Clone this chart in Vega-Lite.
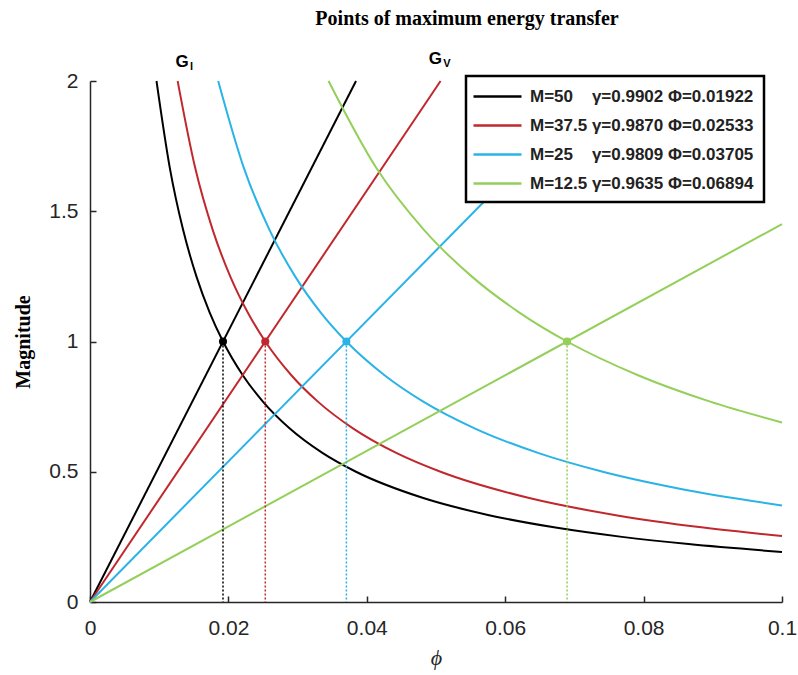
{
  "$schema": "https://vega.github.io/schema/vega-lite/v6.json",
  "width": 692,
  "height": 521,
  "autosize": {"type": "none"},
  "padding": {"left": 90, "top": 81, "right": 16, "bottom": 73},
  "background": "white",
  "title": {"text": "Points of maximum energy transfer", "font": "Liberation Serif", "fontSize": 20, "fontWeight": "bold", "offset": 21, "dx": 31, "color": "black", "anchor": "middle"},
  "datasets": {
    "curves": [
      {"s": "M=50", "k": "h", "x": 0.00961, "y": 2},
      {"s": "M=50", "k": "h", "x": 0.011532, "y": 1.6667},
      {"s": "M=50", "k": "h", "x": 0.013454, "y": 1.4286},
      {"s": "M=50", "k": "h", "x": 0.015376, "y": 1.25},
      {"s": "M=50", "k": "h", "x": 0.017298, "y": 1.1111},
      {"s": "M=50", "k": "h", "x": 0.01922, "y": 1},
      {"s": "M=50", "k": "h", "x": 0.022103, "y": 0.8696},
      {"s": "M=50", "k": "h", "x": 0.024986, "y": 0.7692},
      {"s": "M=50", "k": "h", "x": 0.02883, "y": 0.6667},
      {"s": "M=50", "k": "h", "x": 0.033635, "y": 0.5714},
      {"s": "M=50", "k": "h", "x": 0.03844, "y": 0.5},
      {"s": "M=50", "k": "h", "x": 0.04805, "y": 0.4},
      {"s": "M=50", "k": "h", "x": 0.05766, "y": 0.3333},
      {"s": "M=50", "k": "h", "x": 0.06727, "y": 0.2857},
      {"s": "M=50", "k": "h", "x": 0.07688, "y": 0.25},
      {"s": "M=50", "k": "h", "x": 0.08649, "y": 0.2222},
      {"s": "M=50", "k": "h", "x": 0.1, "y": 0.1922},
      {"s": "M=50", "k": "l", "x": 0, "y": 0},
      {"s": "M=50", "k": "l", "x": 0.03844, "y": 2},
      {"s": "M=37.5", "k": "h", "x": 0.012665, "y": 2},
      {"s": "M=37.5", "k": "h", "x": 0.015198, "y": 1.6667},
      {"s": "M=37.5", "k": "h", "x": 0.017731, "y": 1.4286},
      {"s": "M=37.5", "k": "h", "x": 0.020264, "y": 1.25},
      {"s": "M=37.5", "k": "h", "x": 0.022797, "y": 1.1111},
      {"s": "M=37.5", "k": "h", "x": 0.02533, "y": 1},
      {"s": "M=37.5", "k": "h", "x": 0.02913, "y": 0.8696},
      {"s": "M=37.5", "k": "h", "x": 0.032929, "y": 0.7692},
      {"s": "M=37.5", "k": "h", "x": 0.037995, "y": 0.6667},
      {"s": "M=37.5", "k": "h", "x": 0.044328, "y": 0.5714},
      {"s": "M=37.5", "k": "h", "x": 0.05066, "y": 0.5},
      {"s": "M=37.5", "k": "h", "x": 0.063325, "y": 0.4},
      {"s": "M=37.5", "k": "h", "x": 0.07599, "y": 0.3333},
      {"s": "M=37.5", "k": "h", "x": 0.088655, "y": 0.2857},
      {"s": "M=37.5", "k": "h", "x": 0.1, "y": 0.2533},
      {"s": "M=37.5", "k": "l", "x": 0, "y": 0},
      {"s": "M=37.5", "k": "l", "x": 0.05066, "y": 2},
      {"s": "M=25", "k": "h", "x": 0.018525, "y": 2},
      {"s": "M=25", "k": "h", "x": 0.02223, "y": 1.6667},
      {"s": "M=25", "k": "h", "x": 0.025935, "y": 1.4286},
      {"s": "M=25", "k": "h", "x": 0.02964, "y": 1.25},
      {"s": "M=25", "k": "h", "x": 0.033345, "y": 1.1111},
      {"s": "M=25", "k": "h", "x": 0.03705, "y": 1},
      {"s": "M=25", "k": "h", "x": 0.042608, "y": 0.8696},
      {"s": "M=25", "k": "h", "x": 0.048165, "y": 0.7692},
      {"s": "M=25", "k": "h", "x": 0.055575, "y": 0.6667},
      {"s": "M=25", "k": "h", "x": 0.064838, "y": 0.5714},
      {"s": "M=25", "k": "h", "x": 0.0741, "y": 0.5},
      {"s": "M=25", "k": "h", "x": 0.085215, "y": 0.4348},
      {"s": "M=25", "k": "h", "x": 0.1, "y": 0.3705},
      {"s": "M=25", "k": "l", "x": 0, "y": 0},
      {"s": "M=25", "k": "l", "x": 0.0741, "y": 2},
      {"s": "M=12.5", "k": "h", "x": 0.03447, "y": 2},
      {"s": "M=12.5", "k": "h", "x": 0.041364, "y": 1.6667},
      {"s": "M=12.5", "k": "h", "x": 0.048258, "y": 1.4286},
      {"s": "M=12.5", "k": "h", "x": 0.055152, "y": 1.25},
      {"s": "M=12.5", "k": "h", "x": 0.062046, "y": 1.1111},
      {"s": "M=12.5", "k": "h", "x": 0.06894, "y": 1},
      {"s": "M=12.5", "k": "h", "x": 0.079281, "y": 0.8696},
      {"s": "M=12.5", "k": "h", "x": 0.089622, "y": 0.7692},
      {"s": "M=12.5", "k": "h", "x": 0.1, "y": 0.6894},
      {"s": "M=12.5", "k": "l", "x": 0, "y": 0},
      {"s": "M=12.5", "k": "l", "x": 0.1, "y": 1.4505}
    ],
    "points": [
      {"s": "M=50", "x": 0.01922, "y": 1},
      {"s": "M=37.5", "x": 0.02533, "y": 1},
      {"s": "M=25", "x": 0.03705, "y": 1},
      {"s": "M=12.5", "x": 0.06894, "y": 1}
    ],
    "labels": [
      {"t": "G", "sub": "l", "x": 0.0133, "y": 2.073},
      {"t": "G", "sub": "V", "x": 0.0499, "y": 2.084}
    ]
  },
  "layer": [
    {
      "data": {"name": "curves"},
      "mark": {"type": "line", "strokeWidth": 2, "interpolate": "monotone"},
      "encoding": {
        "x": {"field": "x", "type": "quantitative", "title": "ϕ",
          "scale": {"domain": [0, 0.1], "nice": false, "zero": false},
          "axis": {"values": [0, 0.02, 0.04, 0.06, 0.08, 0.1], "format": "~g", "labelPadding": 21, "titleFontStyle": "italic", "titleFont": "Liberation Serif", "titleFontSize": 22, "titleFontWeight": "normal", "titlePadding": 9}},
        "y": {"field": "y", "type": "quantitative", "title": "Magnitude",
          "scale": {"domain": [0, 2], "nice": false},
          "axis": {"values": [0, 0.5, 1, 1.5, 2], "format": "~g", "labelPadding": 18, "titleFont": "Liberation Serif", "titleFontSize": 20, "titleFontWeight": "bold", "titleColor": "black", "titlePadding": 15}},
        "color": {"field": "s", "type": "nominal",
          "scale": {"domain": ["M=50", "M=37.5", "M=25", "M=12.5"], "range": ["#000000", "#C0282D", "#2AB3E6", "#93CF59"]},
          "legend": {
            "title": null,
            "orient": "none",
            "legendX": 376,
            "legendY": -5,
            "labelExpr": "datum.label == 'M=50' ? 'M=50\u00a0\u00a0\u00a0\u00a0γ=0.9902\u00a0Φ=0.01922\u00a0' : datum.label == 'M=37.5' ? 'M=37.5\u00a0γ=0.9870\u00a0Φ=0.02533\u00a0' : datum.label == 'M=25' ? 'M=25\u00a0\u00a0\u00a0\u00a0γ=0.9809\u00a0Φ=0.03705\u00a0' : 'M=12.5\u00a0γ=0.9635\u00a0Φ=0.06894\u00a0'"
          }},
        "detail": {"field": "k", "type": "nominal"}
      }
    },
    {
      "data": {"name": "points"},
      "mark": {"type": "rule", "strokeDash": [2, 2], "strokeWidth": 1.5},
      "encoding": {
        "x": {"field": "x", "type": "quantitative"},
        "y": {"field": "y", "type": "quantitative"},
        "y2": {"datum": 0},
        "color": {"field": "s", "type": "nominal", "legend": null}
      }
    },
    {
      "data": {"name": "points"},
      "mark": {"type": "point", "filled": true, "size": 65, "opacity": 1},
      "encoding": {
        "x": {"field": "x", "type": "quantitative"},
        "y": {"field": "y", "type": "quantitative"},
        "color": {"field": "s", "type": "nominal", "legend": null}
      }
    },
    {
      "data": {"name": "labels"},
      "mark": {"type": "text", "font": "Liberation Sans", "fontSize": 17, "fontWeight": "bold", "align": "center", "baseline": "middle", "color": "black"},
      "encoding": {
        "x": {"field": "x", "type": "quantitative"},
        "y": {"field": "y", "type": "quantitative"},
        "text": {"field": "t"}
      }
    },
    {
      "data": {"name": "labels"},
      "mark": {"type": "text", "font": "Liberation Sans", "fontSize": 11, "fontWeight": "bold", "align": "left", "baseline": "middle", "dx": 8, "dy": 5, "color": "black"},
      "encoding": {
        "x": {"field": "x", "type": "quantitative"},
        "y": {"field": "y", "type": "quantitative"},
        "text": {"field": "sub"}
      }
    }
  ],
  "config": {
    "view": {"stroke": null},
    "axis": {
      "grid": false,
      "domainColor": "#262626",
      "domainWidth": 1.5,
      "tickColor": "#262626",
      "tickWidth": 1.5,
      "tickSize": -6,
      "labelFlush": false,
      "labelFont": "Liberation Sans",
      "labelFontSize": 21,
      "labelColor": "#262626",
      "titleColor": "#262626"
    },
    "legend": {
      "symbolType": "M-2.667,0H2.667",
      "symbolStrokeWidth": 2.5,
      "symbolSize": 324,
      "symbolOffset": 11,
      "labelOffset": 22,
      "labelFont": "Liberation Sans",
      "labelFontSize": 17,
      "labelFontWeight": "bold",
      "labelColor": "#222222",
      "labelLimit": 400,
      "fillColor": "white",
      "strokeColor": "black",
      "strokeWidth": 2.5,
      "padding": 10,
      "rowPadding": 10
    }
  }
}
